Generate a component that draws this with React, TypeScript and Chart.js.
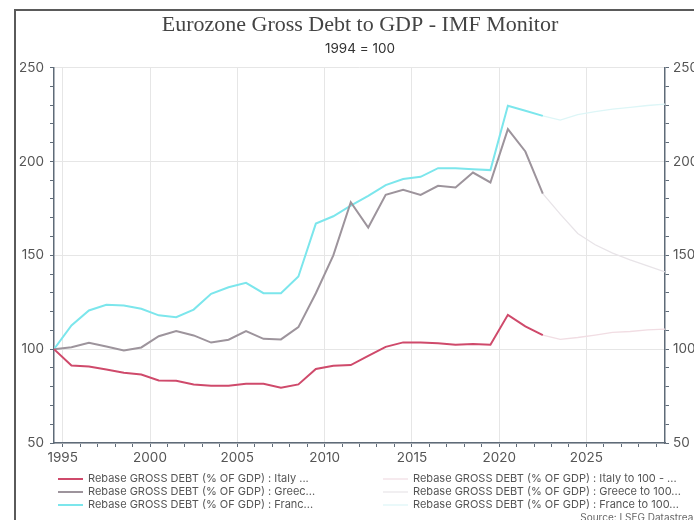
import React, { useEffect, useRef } from "react";
import { Chart, registerables } from "chart.js";

Chart.register(...registerables);

// Annual observations (dated mid-year), rebased 1994 = 100
const years = [
  1994, 1995, 1996, 1997, 1998, 1999, 2000, 2001, 2002, 2003, 2004, 2005, 2006, 2007, 2008,
  2009, 2010, 2011, 2012, 2013, 2014, 2015, 2016, 2017, 2018, 2019, 2020, 2021, 2022,
];
const forecastYears = [2022, 2023, 2024, 2025, 2026, 2027, 2028, 2029];

const italy = [
  100, 91.3, 90.8, 89.2, 87.4, 86.5, 83.3, 83.1, 81.2, 80.5, 80.5, 81.5, 81.5, 79.4, 81.2,
  89.4, 91.2, 91.5, 96.4, 101.2, 103.6, 103.6, 103.2, 102.3, 102.7, 102.3, 118.3, 112.1, 107.5,
];
const greece = [
  100, 101, 103.4, 101.4, 99.3, 100.9, 106.9, 109.6, 107.3, 103.5, 105, 109.6, 105.5, 105.2, 111.7,
  129.8, 150, 178.3, 164.8, 182.2, 184.9, 182.2, 187, 186.1, 194.1, 188.8, 217.2, 205.3, 182.9,
];
const france = [
  100, 112.6, 120.6, 123.6, 123.3, 121.5, 118, 117, 121.1, 129.5, 133, 135.3, 129.8, 129.8, 138.7,
  166.9, 170.8, 176.5, 181.7, 187.4, 190.6, 191.8, 196.4, 196.4, 195.9, 195.4, 229.7, 227, 224.3,
];
const italyForecast = [107.5, 105.2, 106.2, 107.5, 108.9, 109.4, 110.3, 110.7];
const greeceForecast = [182.9, 171.9, 161.6, 155.6, 151.2, 147.6, 144.4, 141.2];
const franceForecast = [224.3, 222, 224.9, 226.6, 227.9, 228.8, 229.8, 230.5];

const seriesLabels = [
  "Rebase GROSS DEBT (% OF GDP) : Italy ...",
  "Rebase GROSS DEBT (% OF GDP) : Greec...",
  "Rebase GROSS DEBT (% OF GDP) : Franc...",
  "Rebase GROSS DEBT (% OF GDP) : Italy to 100 - ...",
  "Rebase GROSS DEBT (% OF GDP) : Greece to 100...",
  "Rebase GROSS DEBT (% OF GDP) : France to 100...",
];
const xTickYears = [
  1995, 1996, 1997, 1998, 1999, 2000, 2001, 2002, 2003, 2004, 2005, 2006, 2007, 2008, 2009,
  2010, 2011, 2012, 2013, 2014, 2015, 2016, 2017, 2018, 2019, 2020, 2021, 2022, 2023, 2024,
  2025, 2026, 2027, 2028, 2029,
];

const titleText = "Eurozone Gross Debt to GDP - IMF Monitor";
const subtitleText = "1994 = 100";
const sourceText = "Source: LSEG Datastream";

const COLORS = {
  italy: "#cf4a6b",
  greece: "#9d949c",
  france: "#7ce6ec",
  italyF: "#f1dde3",
  greeceF: "#e8e4e8",
  franceF: "#ddf6f7",
};
const AXIS = "#5f6b78";
const GRID = "#e6e6e6";
const TEXT = "#555";
const FONT = "Inter";

const toPoints = (xs: number[], ys: number[]) => xs.map((x, i) => ({ x: x + 0.5, y: ys[i] }));

const legendPlugin = {
  id: "customLegend",
  afterDraw(chart: any) {
    const ctx = chart.ctx;
    const xs = chart.scales.x;
    const top = xs.bottom + 6;
    const ds = chart.data.datasets;
    ctx.save();
    ctx.font = `11px ${FONT}`;
    ctx.textBaseline = "middle";
    ctx.textAlign = "left";
    ds.forEach((d: any, i: number) => {
      const col = i < 3 ? 0 : 1;
      const row = i % 3;
      const lx = col === 0 ? 42 : 367;
      const y = top + row * 13;
      ctx.strokeStyle = d.borderColor;
      ctx.lineWidth = i < 3 ? 2 : 1.2;
      ctx.beginPath();
      ctx.moveTo(lx, y);
      ctx.lineTo(lx + 25, y);
      ctx.stroke();
      ctx.fillStyle = TEXT;
      ctx.fillText(d.label, lx + 30, y);
    });
    ctx.font = `10px ${FONT}`;
    ctx.textAlign = "right";
    ctx.fillStyle = "#666";
    ctx.fillText(sourceText, chart.width - 2, top + 3 * 13);
    ctx.restore();
  },
};

export default function App() {
  const ref = useRef<HTMLCanvasElement | null>(null);

  useEffect(() => {
    document.documentElement.style.overflow = "hidden";
    document.body.style.overflow = "hidden";
    if (!ref.current) return;
    const yTickBase = {
      stepSize: 10,
      autoSkip: false,
      color: TEXT,
      font: { family: FONT, size: 13.5 },
      callback: (v: any) => (Number(v) % 50 === 0 ? String(v) : ""),
    };
    const chart = new Chart(ref.current, {
      type: "line",
      data: {
        datasets: [
          { label: seriesLabels[0], data: toPoints(years, italy), borderColor: COLORS.italy, borderWidth: 2 },
          { label: seriesLabels[1], data: toPoints(years, greece), borderColor: COLORS.greece, borderWidth: 2 },
          { label: seriesLabels[2], data: toPoints(years, france), borderColor: COLORS.france, borderWidth: 2 },
          { label: seriesLabels[3], data: toPoints(forecastYears, italyForecast), borderColor: COLORS.italyF, borderWidth: 1.3 },
          { label: seriesLabels[4], data: toPoints(forecastYears, greeceForecast), borderColor: COLORS.greeceF, borderWidth: 1.3 },
          { label: seriesLabels[5], data: toPoints(forecastYears, franceForecast), borderColor: COLORS.franceF, borderWidth: 1.3 },
        ],
      },
      options: {
        responsive: false,
        animation: false,
        devicePixelRatio: 1,
        elements: { point: { radius: 0 }, line: { tension: 0, fill: false } },
        layout: { padding: { left: 0, right: 0, top: 0, bottom: 58 } },
        plugins: {
          legend: { display: false },
          tooltip: { enabled: false },
          title: {
            display: true,
            text: titleText,
            color: "#444",
            font: { family: "Liberation Serif", size: 22, weight: "normal" },
            padding: { top: 1, bottom: 0 },
          },
          subtitle: {
            display: true,
            text: subtitleText,
            color: "#333",
            font: { family: FONT, size: 13.5 },
            padding: { top: 2, bottom: 11 },
          },
        },
        scales: {
          x: {
            type: "linear",
            min: 1994.5,
            max: 2029.5,
            afterBuildTicks: (s: any) => {
              s.ticks = xTickYears.map((v) => ({ value: v }));
            },
            afterFit: (s: any) => {
              s.height = 30;
            },
            ticks: {
              autoSkip: false,
              maxRotation: 0,
              color: TEXT,
              padding: 3,
              font: { family: FONT, size: 13.5 },
              callback: (v: any) => (Number(v) % 5 === 0 ? String(v) : ""),
            },
            grid: {
              color: (c: any) => (c.tick && c.tick.value % 5 === 0 ? GRID : "rgba(0,0,0,0)"),
              tickColor: AXIS,
              tickLength: 4,
            },
            border: { color: AXIS, width: 1.5 },
          },
          y: {
            type: "linear",
            position: "left",
            min: 50,
            max: 250,
            afterFit: (s: any) => {
              s.width = 38;
            },
            ticks: { ...yTickBase, padding: 6 },
            grid: {
              color: (c: any) => (c.tick && c.tick.value % 50 === 0 ? GRID : "rgba(0,0,0,0)"),
              tickColor: AXIS,
              tickLength: 4,
            },
            border: { color: AXIS, width: 1.5 },
          },
          y2: {
            type: "linear",
            position: "right",
            min: 50,
            max: 250,
            afterFit: (s: any) => {
              s.width = 39;
            },
            ticks: { ...yTickBase, padding: 4 },
            grid: { drawOnChartArea: false, tickColor: AXIS, tickLength: 4 },
            border: { color: AXIS, width: 1.5 },
          },
        },
      },
      plugins: [legendPlugin],
    } as any);
    return () => chart.destroy();
  }, []);

  return (
    <div
      style={{
        position: "fixed",
        left: 14,
        top: 9,
        width: 688,
        height: 520,
        border: "2px solid #5a5a5a",
        background: "#fff",
        overflow: "hidden",
      }}
    >
      <canvas ref={ref} width={688} height={520} style={{ display: "block", width: 688, height: 520 }} />
    </div>
  );
}
